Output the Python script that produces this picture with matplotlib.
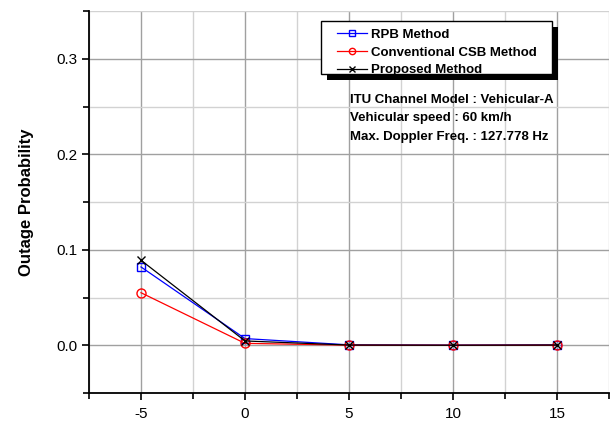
import matplotlib
matplotlib.use("Agg")
import matplotlib.pyplot as plt
from matplotlib.patches import Rectangle
from matplotlib.transforms import IdentityTransform
from matplotlib.ticker import MultipleLocator

plt.rcParams["font.family"] = ["Liberation Sans", "DejaVu Sans"]
plt.rcParams["axes.unicode_minus"] = False

# SNR points and outage probability per scheme
snr = [-5, 0, 5, 10, 15]
rpb = [0.082, 0.007, 0.0004, 0.0001, 0.0004]
csb = [0.055, 0.002, 0.0001, 0.0, 0.0001]
proposed = [0.089, 0.0045, 0.0002, 0.0, 0.0002]

info = ["ITU Channel Model : Vehicular-A",
        "Vehicular speed : 60 km/h",
        "Max. Doppler Freq. : 127.778 Hz"]

W, H = 616, 421
fig = plt.figure(figsize=(W/100, H/100), dpi=100)
ax = fig.add_axes([89/W, 1-393/H, (609-89)/W, (393-11)/H])

ax.plot(snr, rpb, color="blue", lw=0.9, marker="s", ms=6, mfc="none", mec="blue", mew=1, label="RPB Method")
ax.plot(snr, csb, color="red", lw=0.9, marker="o", ms=6.5, mfc="none", mec="red", mew=1, label="Conventional CSB Method")
ax.plot(snr, proposed, color="black", lw=0.9, marker="x", ms=6, mew=1, label="Proposed Method")

ax.set_xlim(-7.5, 17.5)
ax.set_ylim(-0.05, 0.35)
ax.xaxis.set_major_locator(MultipleLocator(5))
ax.xaxis.set_minor_locator(MultipleLocator(2.5))
ax.yaxis.set_major_locator(MultipleLocator(0.1))
ax.yaxis.set_minor_locator(MultipleLocator(0.05))
ax.set_yticks([0.0, 0.1, 0.2, 0.3])
ax.set_yticklabels(["0.0", "0.1", "0.2", "0.3"])

ax.grid(True, which="major", color="#a0a0a0", lw=1)
ax.grid(True, which="minor", color="#d2d2d2", lw=1)
ax.set_axisbelow(True)
for s in ["top", "right"]:
    ax.spines[s].set_visible(False)
for s in ["left", "bottom"]:
    ax.spines[s].set_linewidth(1.3)
ax.tick_params(which="both", direction="out", width=1.2, labelsize=11)
ax.tick_params(which="major", length=5)
ax.tick_params(which="minor", length=4)
ax.tick_params(axis="x", pad=5)

ax.set_ylabel("Outage Probability", fontsize=12, fontweight="bold", labelpad=16)

# legend box with a hard drop shadow, drawn in pixel coordinates
box = (321, 21, 552, 74)
px = IdentityTransform()
ax.add_artist(Rectangle((box[0] + 6, H - box[3] - 6), box[2] - box[0], box[3] - box[1], transform=px,
                        facecolor="black", edgecolor="none", zorder=5, clip_on=False))
ax.add_artist(Rectangle((box[0], H - box[3]), box[2] - box[0], box[3] - box[1], transform=px,
                        facecolor="white", edgecolor="black", lw=1, zorder=6, clip_on=False))

leg = ax.legend(loc="upper left", bbox_to_anchor=(337/W, 1-28.5/H), bbox_transform=fig.transFigure,
                borderaxespad=0, borderpad=0, frameon=False, markerscale=0.7,
                prop={"weight": "bold", "size": 9.5}, handlelength=2.3, handletextpad=0.25,
                labelspacing=0.42)
leg.set_zorder(7)

for i, line in enumerate(info):
    ax.text(350/W, 1-(100 + 18.5*i)/H, line, transform=fig.transFigure, fontsize=9.5,
            fontweight="bold", va="center", ha="left")

fig.savefig("out.png", dpi=100)
